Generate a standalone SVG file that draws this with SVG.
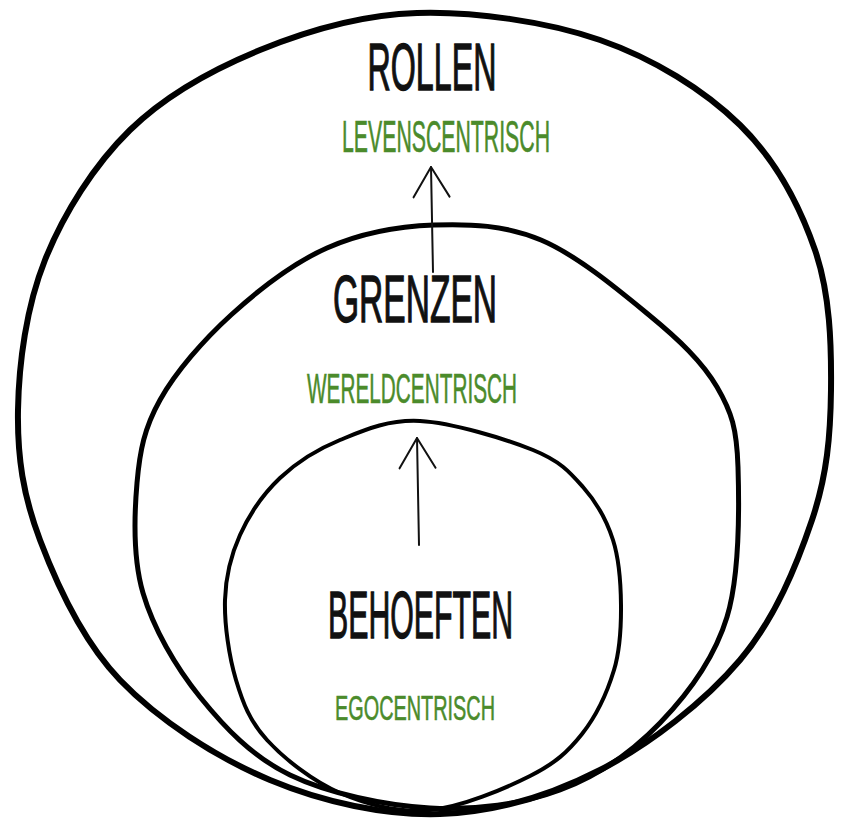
<svg xmlns="http://www.w3.org/2000/svg" width="846" height="822" viewBox="0 0 846 822">
<style>
.ring{fill:none;stroke:#000;stroke-linecap:round;stroke-linejoin:round}
.title{font-family:"Liberation Sans","DejaVu Sans",sans-serif;fill:#111;stroke:#111;stroke-width:1.3;text-anchor:middle}
.sub{font-family:"Liberation Sans","DejaVu Sans",sans-serif;fill:#4b8b2b;stroke:#4b8b2b;stroke-width:0.6;text-anchor:middle}
.arrow{fill:none;stroke:#111;stroke-width:2;stroke-linecap:round}
</style>
<defs>
<marker id="head" markerUnits="userSpaceOnUse" viewBox="-34 -22 40 44" markerWidth="40" markerHeight="44" refX="0" refY="0" orient="auto" overflow="visible">
<path d="M -30 -18 L 0 0 L -30 18" fill="none" stroke="#111" stroke-width="2" stroke-linecap="round" stroke-linejoin="round"/>
</marker>
</defs>
<rect width="846" height="822" fill="#fff"/>
<g id="rollen">
<path class="ring" stroke-width="6" d="M417,13 C473.7,11.3 546.2,21.3 600,40 C653.8,58.7 704.2,90 740,125 C775.8,160 799.8,205.8 815,250 C830.2,294.2 831.5,345 831,390 C830.5,435 827.2,475 812,520 C796.8,565 775.3,618.3 740,660 C704.7,701.7 650,744.3 600,770 C550,795.7 495,812.3 440,814 C385,815.7 323.3,802.3 270,780 C216.7,757.7 158.3,720 120,680 C81.7,640 57,585 40,540 C23,495 17.2,456.7 18,410 C18.8,363.3 26.3,306.7 45,260 C63.7,213.3 94.2,165 130,130 C165.8,95 212.2,69.5 260,50 C307.8,30.5 360.3,14.7 417,13 Z"/>
<text class="title" x="432" y="90" font-size="66" textLength="129" lengthAdjust="spacingAndGlyphs">ROLLEN</text>
<text class="sub" x="446" y="152" font-size="44" textLength="208" lengthAdjust="spacingAndGlyphs">LEVENSCENTRISCH</text>
</g>
<g id="grenzen">
<path class="ring" stroke-width="5" d="M434,225 C469.7,223.7 505.2,225 541,240 C576.8,255 619.2,290.5 649,315 C678.8,339.5 702.2,361.7 717,387 C731.8,412.3 736.8,428.7 738,467 C739.2,505.3 740,574.3 727,617 C714,659.7 687.8,694.2 660,723 C632.2,751.8 598.3,775.8 560,790 C521.7,804.2 475,810.5 430,808 C385,805.5 328.3,793.5 290,775 C251.7,756.5 224.5,727.3 200,697 C175.5,666.7 153.5,628.7 143,593 C132.5,557.3 134.2,515.2 137,483 C139.8,450.8 144.3,428 160,400 C175.7,372 203.2,340.3 231,315 C258.8,289.7 293.2,263 327,248 C360.8,233 398.3,226.3 434,225 Z"/>
<text class="title" x="415" y="322" font-size="67" textLength="164" lengthAdjust="spacingAndGlyphs">GRENZEN</text>
<text class="sub" x="412" y="403" font-size="42" textLength="210" lengthAdjust="spacingAndGlyphs">WERELDCENTRISCH</text>
</g>
<g id="behoeften">
<path class="ring" stroke-width="4" d="M420,421 C452.2,422.7 505.8,439 533,450 C560.2,461 569.7,472 583,487 C596.3,502 606.7,520.3 613,540 C619.3,559.7 620.8,583.3 621,605 C621.2,626.7 620.5,648.5 614,670 C607.5,691.5 596,716.3 582,734 C568,751.7 555.3,763.3 530,776 C504.7,788.7 461.7,807.2 430,810 C398.3,812.8 367.2,804.7 340,793 C312.8,781.3 284.3,758.8 267,740 C249.7,721.2 243,703.3 236,680 C229,656.7 224.3,624.2 225,600 C225.7,575.8 230.8,555.3 240,535 C249.2,514.7 263.3,493.8 280,478 C296.7,462.2 316.7,449.5 340,440 C363.3,430.5 387.8,419.3 420,421 Z"/>
<text class="title" x="420.5" y="638" font-size="67" textLength="185" lengthAdjust="spacingAndGlyphs">BEHOEFTEN</text>
<text class="sub" x="415" y="720" font-size="35" textLength="160" lengthAdjust="spacingAndGlyphs">EGOCENTRISCH</text>
</g>
<g id="connectors">
<path class="arrow" d="M433,272 L431,167" marker-end="url(#head)"/>
<path class="arrow" d="M419,545 L417,438" marker-end="url(#head)"/>
</g>
</svg>
